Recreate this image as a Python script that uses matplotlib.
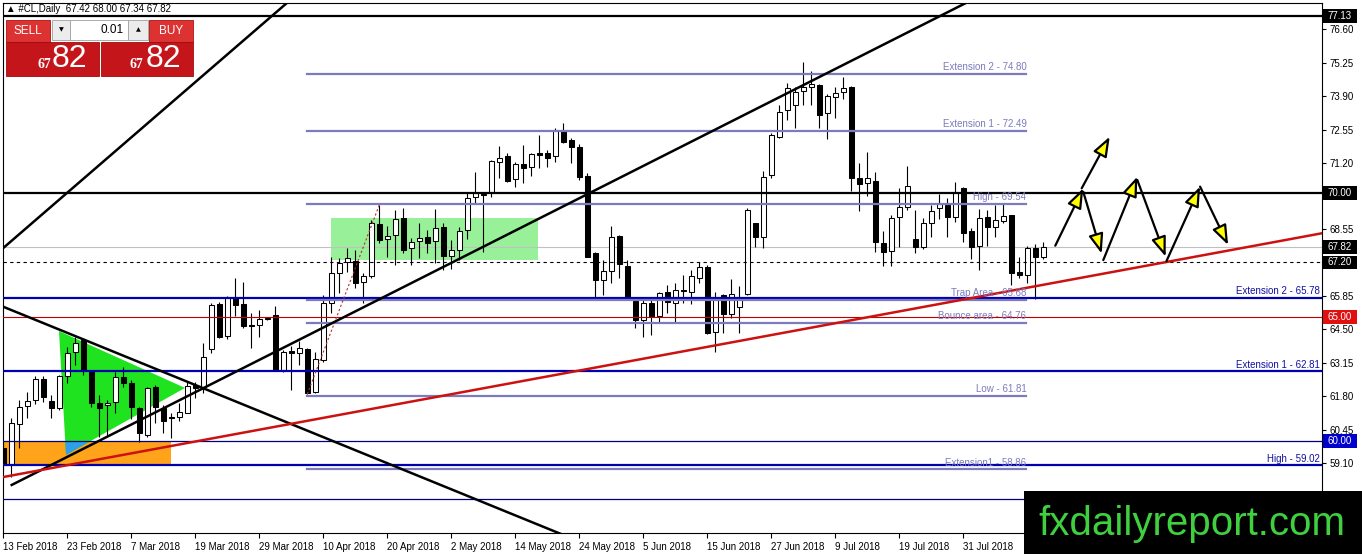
import matplotlib
matplotlib.use('Agg')
import matplotlib.pyplot as plt
import matplotlib.transforms as mtransforms
from matplotlib.patches import Rectangle, Polygon, FancyArrowPatch

plt.rcParams['font.family'] = ['Liberation Sans', 'DejaVu Sans']

# ---------------- data ----------------
opens = [59.72, 59.03, 60.68, 61.41, 61.65, 62.50, 61.61, 61.33, 62.62, 63.58,
         64.07, 62.78, 61.53, 61.45, 61.57, 62.58, 62.34, 61.33, 60.24, 62.17,
         61.33, 60.97, 60.97, 61.13, 62.25, 62.17, 63.71, 65.52, 64.23, 65.80,
         65.52, 64.67, 64.67, 64.91, 65.08, 62.86, 63.62, 63.54, 63.71, 61.97,
         63.26, 65.56, 66.77, 67.21, 67.25, 66.41, 66.65, 68.74, 68.14, 68.30,
         68.98, 67.78, 68.06, 68.22, 68.06, 68.62, 67.45, 67.70, 68.50, 69.83,
         69.95, 70.03, 71.24, 71.48, 70.56, 71.16, 71.04, 71.60, 71.60, 71.48,
         72.53, 72.13, 71.85, 70.68, 67.57, 66.49, 66.85, 68.26, 67.05, 65.64,
         64.87, 65.56, 65.04, 66.00, 65.56, 66.08, 66.00, 66.57, 67.01, 64.39,
         65.88, 65.12, 65.40, 65.92, 68.78, 68.22, 70.72, 72.25, 73.34, 73.54,
         74.10, 74.26, 74.34, 73.22, 73.86, 74.06, 74.26, 70.60, 70.40, 70.48,
         67.98, 67.65, 69.03, 69.43, 68.14, 67.82, 68.78, 69.39, 69.51, 69.03,
         70.19, 68.46, 67.86, 69.03, 68.62, 68.86, 69.11, 66.81, 66.69, 67.78,
         67.42]
highs = [60.00, 60.93, 61.65, 61.97, 62.62, 62.62, 61.85, 62.66, 63.79, 64.19,
         64.15, 62.86, 61.85, 61.65, 62.78, 62.98, 62.46, 61.37, 62.17, 62.25,
         61.45, 61.13, 61.53, 62.38, 62.38, 63.95, 65.56, 65.60, 65.84, 66.57,
         66.41, 65.16, 65.28, 64.95, 65.44, 63.66, 63.83, 64.03, 63.75, 63.58,
         65.88, 67.41, 67.37, 67.78, 67.70, 66.77, 68.90, 69.51, 68.66, 69.31,
         69.39, 68.18, 68.78, 68.50, 69.35, 68.78, 68.10, 68.62, 69.99, 70.84,
         70.03, 71.32, 71.88, 71.60, 71.24, 71.93, 71.60, 72.33, 71.72, 72.61,
         72.81, 72.21, 71.97, 70.80, 67.61, 67.29, 68.66, 68.30, 67.29, 65.76,
         65.68, 65.68, 66.00, 66.29, 66.37, 66.69, 66.89, 67.21, 67.09, 66.00,
         65.92, 66.53, 66.25, 69.39, 68.78, 70.88, 72.41, 73.54, 74.42, 74.26,
         75.27, 74.91, 74.38, 73.98, 74.26, 74.67, 74.30, 71.20, 71.64, 70.84,
         68.46, 69.11, 70.19, 71.08, 69.31, 68.98, 69.51, 69.95, 69.79, 70.44,
         70.23, 68.58, 69.35, 69.31, 69.51, 69.59, 69.11, 67.41, 67.86, 67.94,
         68.00]
lows = [58.80, 58.55, 59.72, 60.93, 61.50, 61.57, 60.93, 61.25, 62.34, 63.06,
        62.66, 61.37, 60.16, 60.16, 61.13, 62.17, 60.89, 59.96, 60.16, 60.72,
        60.32, 60.12, 60.80, 61.13, 61.73, 61.93, 63.54, 64.15, 64.10, 65.04,
        64.55, 63.75, 64.19, 64.87, 62.86, 62.80, 62.05, 63.06, 61.89, 61.93,
        63.18, 65.16, 65.96, 66.81, 66.17, 65.56, 66.57, 67.98, 67.41, 67.09,
        67.57, 67.09, 67.37, 67.57, 67.17, 66.89, 66.93, 67.29, 68.14, 69.59,
        67.61, 69.83, 70.60, 70.44, 70.23, 70.40, 70.68, 71.00, 71.04, 71.24,
        72.01, 71.20, 70.52, 67.41, 65.80, 65.88, 66.37, 66.57, 65.68, 64.55,
        64.19, 64.27, 64.79, 65.16, 64.79, 65.56, 65.52, 66.37, 64.31, 63.58,
        64.35, 64.95, 64.35, 65.88, 67.82, 67.78, 70.60, 72.21, 72.93, 72.61,
        73.54, 73.54, 72.61, 72.17, 73.02, 73.80, 70.07, 69.27, 69.87, 67.61,
        67.05, 67.05, 67.82, 69.31, 67.57, 67.74, 68.22, 68.94, 68.22, 68.82,
        68.02, 67.33, 66.89, 67.86, 68.22, 68.78, 66.29, 66.57, 66.37, 65.72,
        67.34]
closes = [59.03, 60.72, 61.37, 61.61, 62.50, 61.77, 61.33, 62.62, 63.54, 63.95,
          62.86, 61.53, 61.33, 61.53, 62.58, 62.34, 61.37, 60.32, 62.13, 61.37,
          60.80, 60.93, 61.17, 62.21, 62.13, 63.38, 65.48, 64.19, 65.76, 65.48,
          64.63, 64.63, 64.91, 64.91, 62.86, 63.58, 63.54, 63.75, 61.93, 63.30,
          65.56, 66.77, 67.17, 67.37, 66.37, 66.65, 68.78, 68.10, 68.26, 68.94,
          67.70, 68.02, 68.18, 67.98, 68.58, 67.45, 67.70, 68.46, 69.79, 69.99,
          69.91, 71.28, 71.40, 70.48, 71.16, 71.00, 71.56, 71.52, 71.40, 72.53,
          72.05, 71.85, 70.64, 67.41, 66.49, 66.85, 68.22, 67.13, 65.76, 64.87,
          65.56, 64.99, 65.96, 65.60, 66.08, 66.04, 66.65, 67.01, 64.35, 65.68,
          65.12, 65.92, 65.76, 69.31, 68.22, 70.64, 72.33, 73.25, 74.22, 74.06,
          74.26, 74.38, 73.14, 73.90, 74.02, 74.22, 70.60, 70.35, 70.60, 68.02,
          67.61, 68.98, 69.43, 70.27, 67.82, 68.78, 69.27, 69.55, 69.03, 70.03,
          68.38, 67.82, 68.98, 68.62, 68.90, 69.07, 66.77, 66.69, 67.78, 67.41,
          67.82]

date_ticks = [0, 8, 16, 24, 32, 40, 48, 56, 64, 72, 80, 88, 96, 104, 112, 120]
date_labels = ['13 Feb 2018', '23 Feb 2018', '7 Mar 2018', '19 Mar 2018', '29 Mar 2018',
               '10 Apr 2018', '20 Apr 2018', '2 May 2018', '14 May 2018', '24 May 2018',
               '5 Jun 2018', '15 Jun 2018', '27 Jun 2018', '9 Jul 2018', '19 Jul 2018',
               '31 Jul 2018']
price_ticks = [76.60, 75.25, 73.90, 72.55, 71.20, 69.90, 68.55, 67.20,
               65.85, 64.50, 63.15, 61.80, 60.45, 59.10, 57.75]
# labels hidden behind the 70.00 / 67.20 axis boxes are left blank
price_labels = ['76.60', '75.25', '73.90', '72.55', '71.20', '', '68.55', '',
                '65.85', '64.50', '63.15', '61.80', '60.45', '59.10', '57.75']

# horizontal levels
black_levels = [77.13, 70.00]
blue_levels = [65.78, 62.81, 59.02]
blue_texts = ['Extension 2 - 65.78', 'Extension 1 - 62.81', 'High - 59.02']
fib_levels = [74.80, 72.49, 69.54, 65.68, 64.76, 61.81, 58.86]
fib_texts = ['Extension 2 - 74.80', 'Extension 1 - 72.49', 'High - 69.54', 'Trap Area - 65.68',
             'Bounce area - 64.76', 'Low - 61.81', 'Extension1 - 58.86']
fib_start, fib_end = 38, 127.9
current_price = 67.82
dashed_level = 67.20
red_level = 65.00
navy_levels = [60.00, 57.66]

# boxes on price axis: (price, text, colour)
axis_boxes = [(77.13, '77.13', 'black'), (70.00, '70.00', 'black'), (67.82, '67.82', 'black'),
              (67.20, '67.20', 'black'), (65.00, '65.00', '#e01010'), (60.00, '60.00', '#0000cc'),
              (57.66, '57.66', '#0000cc')]

# trend lines ((x0, y0), (x1, y1))
trend_black = [((-1, 67.50), (37, 78.08)),
               ((1.05, 58.23), (150, 82.48)),
               ((-1, 65.54), (90, 53.59))]
trend_red = ((-1, 58.49), (166, 68.44))
fib_diag = ((38, 61.89), (47, 69.51))

# scenario arrows
arrows = [(131.5, 67.87, 135.0, 70.18), (134.8, 70.18, 138.3, 72.26),
          (135.0, 70.04, 137.3, 67.55), (137.5, 67.29, 141.75, 70.65),
          (141.75, 70.52, 145.3, 67.43), (145.4, 67.25, 149.6, 70.25),
          (149.6, 70.25, 153.1, 67.90)]

# shaded zones
orange_zone = (-1, 59.07, 20.96, 60.00)       # x0, y0, x1, y1
green_zone = (40.96, 67.29, 66.84, 68.99)
triangle = [(6.96, 64.43), (7.84, 59.44), (22.71, 62.14)]

# ---------------- figure ----------------
W, H = 1362, 554
fig = plt.figure(figsize=(W / 100, H / 100), dpi=100)
L, R, T, B = 2.5, 1322, 2.5, 533
ax = fig.add_axes([L / W, 1 - B / H, (R - L) / W, (B - T) / H])
ax.set_xlim(-0.1, 164.84)
ax.set_ylim(56.294, 77.668)

# zones
orect = Rectangle((orange_zone[0], orange_zone[1]), orange_zone[2] - orange_zone[0],
                  orange_zone[3] - orange_zone[1], fc='#ffa31a', ec='none', zorder=1)
ax.add_patch(orect)
ax.add_patch(Polygon(triangle, closed=True, fc='#1ee31e', ec='none', zorder=1.2))
blue_tri = Polygon(triangle, closed=True, fc='#2e9fe8', ec='none', zorder=1.3)
ax.add_patch(blue_tri)
blue_tri.set_clip_path(orect)
ax.add_patch(Rectangle((green_zone[0], green_zone[1]), green_zone[2] - green_zone[0],
                       green_zone[3] - green_zone[1], fc='#98f098', ec='none', zorder=1))

# candles
xs = list(range(len(opens)))
ax.vlines(xs, lows, highs, color='black', lw=0.8, zorder=3)
for i in xs:
    o, c = opens[i], closes[i]
    bottom = min(o, c)
    h = max(abs(c - o), 0.03)
    fc = 'white' if c >= o else 'black'
    ax.add_patch(Rectangle((i - 0.31, bottom), 0.62, h, fc=fc, ec='black', lw=0.75, zorder=3.5))

# horizontal lines
for lv in black_levels:
    ax.axhline(lv, color='black', lw=1.6, zorder=4)
ax.axhline(current_price, color='#c0c0c0', lw=0.8, zorder=2)
ax.axhline(dashed_level, color='black', lw=0.8, ls=(0, (3, 3)), zorder=4)
ax.axhline(red_level, color='#c00000', lw=0.8, zorder=4)
for lv in navy_levels:
    ax.axhline(lv, color='#000080', lw=0.9, zorder=4)

trans = mtransforms.blended_transform_factory(ax.transAxes, ax.transData)
for lv, tx in zip(blue_levels, blue_texts):
    ax.axhline(lv, color='#0000b0', lw=1.6, zorder=4)
    ax.text(0.9985, lv + 0.07, tx, transform=trans, ha='right', va='bottom',
            fontsize=7, color='#1010a0', zorder=6)
for lv, tx in zip(fib_levels, fib_texts):
    ax.plot([fib_start, fib_end], [lv, lv], color='#7b7bbd', lw=1.6, zorder=4)
    ax.text(fib_end, lv + 0.07, tx, ha='right', va='bottom', fontsize=7,
            color='#7b7bbd', zorder=6)

# trend lines
for (p0, p1) in trend_black:
    ax.plot([p0[0], p1[0]], [p0[1], p1[1]], color='black', lw=1.8, zorder=4.5)
ax.plot([trend_red[0][0], trend_red[1][0]], [trend_red[0][1], trend_red[1][1]],
        color='#cc1111', lw=1.8, zorder=4.6)
ax.plot([fib_diag[0][0], fib_diag[1][0]], [fib_diag[0][1], fib_diag[1][1]],
        color='#b03030', lw=0.8, ls=(0, (2, 2)), zorder=4.4)

# arrows
for (x0, y0, x1, y1) in arrows:
    ax.add_patch(FancyArrowPatch((x0, y0), (x1, y1),
                                 arrowstyle='-|>,head_length=0.8,head_width=0.3',
                                 mutation_scale=15, fc='#ffff00', ec='black', lw=1.6,
                                 shrinkA=0, shrinkB=0, zorder=7))

# axes styling
for s in ax.spines.values():
    s.set_linewidth(0.8)
    s.set_color('black')
ax.yaxis.tick_right()
ax.set_yticks(price_ticks)
ax.set_yticklabels(price_labels)
ax.tick_params(axis='y', length=3, width=0.8, pad=2.5, labelsize=7, direction='out')
ax.set_xticks(date_ticks)
ax.set_xticklabels(date_labels)
ax.tick_params(axis='x', length=3.5, width=0.8, pad=3, labelsize=7, direction='out')
for lbl in ax.get_xticklabels():
    lbl.set_ha('left')

# price boxes on axis
bw = 34 / (R - L)
for p, tx, col in axis_boxes:
    ax.add_patch(Rectangle((1 + 1 / (R - L), p - 0.27), bw, 0.54, transform=trans,
                           fc=col, ec='none', clip_on=False, zorder=10))
    ax.text(1 + 1 / (R - L) + bw / 2, p, tx, transform=trans, ha='center', va='center',
            fontsize=7, color='white', clip_on=False, zorder=11)


# ---------------- MT4 overlays in pixel space ----------------
def prect(x, y, w, h, fc, ec='none', lw=0, z=20):
    fig.add_artist(Rectangle((x / W, 1 - (y + h) / H), w / W, h / H,
                             transform=fig.transFigure, fc=fc, ec=ec, lw=lw, zorder=z))


def ptext(x, y, s, **kw):
    kw.setdefault('zorder', 25)
    fig.text(x / W, 1 - y / H, s, **kw)


ptext(6, 9, '\u25b2 #CL,Daily  67.42 68.00 67.34 67.82', fontsize=7, va='center', ha='left',
      family=['Liberation Sans', 'DejaVu Sans'])

red_top = '#dc3232'
red_big = '#c4151b'
prect(6, 20, 44, 22, red_top, ec='#b01010', lw=0.6)
ptext(28, 31, 'SELL', fontsize=8.5, color='white', ha='center', va='center')
prect(52, 20, 18, 20, '#ececec', ec='#a0a0a0', lw=0.6)
ptext(61, 30, '\u25bc', fontsize=4.5, color='black', ha='center', va='center',
      family=['DejaVu Sans'])
prect(70, 20, 58, 20, 'white', ec='#a0a0a0', lw=0.6)
ptext(124, 30, '0.01', fontsize=8.5, color='black', ha='right', va='center')
prect(128, 20, 20, 20, '#ececec', ec='#a0a0a0', lw=0.6)
ptext(138, 30, '\u25b2', fontsize=4.5, color='black', ha='center', va='center',
      family=['DejaVu Sans'])
prect(149, 20, 44, 22, red_top, ec='#b01010', lw=0.6)
ptext(171, 31, 'BUY', fontsize=8.5, color='white', ha='center', va='center')
prect(6, 42, 93, 34, red_big, ec='#a00c0c', lw=0.6)
prect(101, 42, 92, 34, red_big, ec='#a00c0c', lw=0.6)
ptext(44, 65, '67', fontsize=10, color='white', ha='center', va='center',
      family=['Liberation Serif'], fontweight='bold')
ptext(69, 59, '82', fontsize=23, color='white', ha='center', va='center')
ptext(136, 65, '67', fontsize=10, color='white', ha='center', va='center',
      family=['Liberation Serif'], fontweight='bold')
ptext(163, 59, '82', fontsize=23, color='white', ha='center', va='center')

# watermark
prect(1024, 491, 338, 63, 'black', z=30)
ptext(1192, 535, 'fxdailyreport.com', fontsize=29, color='#3fd03f', ha='center',
      va='baseline', zorder=31)

fig.savefig('out.png', dpi=100)
